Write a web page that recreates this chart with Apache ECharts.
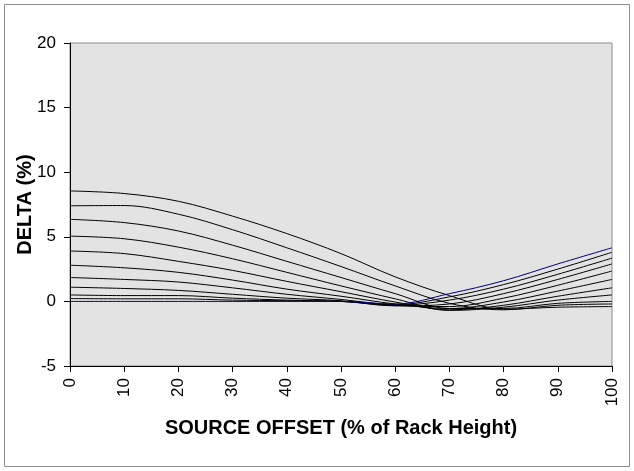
<!DOCTYPE html>
<html>
<head>
<meta charset="utf-8">
<script src="https://cdn.jsdelivr.net/npm/echarts@6/dist/echarts.min.js"></script>
<style>
  html, body { margin: 0; padding: 0; background: #fff; }
  #chart { width: 634px; height: 471px; }
</style>
</head>
<body>
<div id="chart"></div>
<script>
// source offset (% of rack height)
const offsets = [0, 10, 20, 30, 40, 50, 60, 70, 80, 90, 100];

// delta (%) curves
const delta0 = [0, 0, 0, 0, 0, 0, -0.2, 0.6, 1.6, 2.9, 4.15];
const delta1 = [0.22, 0.2, 0.2, 0.1, 0.05, 0, -0.25, 0.35, 1.3, 2.5, 3.8];
const delta2 = [0.5, 0.45, 0.45, 0.25, 0.1, 0, -0.3, 0.1, 0.95, 2.1, 3.35];
const delta3 = [1.1, 1.0, 0.85, 0.55, 0.25, 0.05, -0.35, -0.2, 0.6, 1.7, 2.9];
const delta4 = [1.85, 1.7, 1.5, 1.05, 0.55, 0.15, -0.3, -0.4, 0.25, 1.25, 2.35];
const delta5 = [2.8, 2.6, 2.25, 1.65, 0.95, 0.4, -0.2, -0.55, -0.05, 0.8, 1.7];
const delta6 = [3.9, 3.7, 3.1, 2.4, 1.55, 0.75, -0.05, -0.65, -0.3, 0.4, 1.05];
const delta7 = [5.05, 4.85, 4.2, 3.3, 2.25, 1.2, 0.2, -0.7, -0.45, 0.1, 0.5];
const delta8 = [6.35, 6.1, 5.45, 4.35, 3.1, 1.85, 0.6, -0.55, -0.55, -0.15, 0];
const delta9 = [7.4, 7.42, 6.75, 5.55, 4.15, 2.7, 1.2, -0.15, -0.65, -0.3, -0.2];
const delta10 = [8.55, 8.35, 7.75, 6.6, 5.25, 3.7, 1.9, 0.45, -0.6, -0.45, -0.4];

const blackCurves = [delta10, delta9, delta8, delta7, delta6, delta5, delta4, delta3, delta2, delta1];

const font = "'Liberation Sans', Arial, sans-serif";

const toPoints = (vals) => offsets.map((x, i) => [x, vals[i]]);

const lineSeries = (vals, color) => ({
  type: "line",
  data: toPoints(vals),
  smooth: 0.35,
  showSymbol: false,
  silent: true,
  lineStyle: { color: color, width: 1 },
  itemStyle: { color: color }
});

const chart = echarts.init(document.getElementById("chart"));

chart.setOption({
  animation: false,
  backgroundColor: "#ffffff",
  graphic: [
    {
      type: "rect",
      shape: { x: 4.5, y: 4.5, width: 625, height: 462 },
      style: { fill: "none", stroke: "#8c8c8c", lineWidth: 1 },
      silent: true
    }
  ],
  grid: {
    left: 70,
    right: 22,
    top: 43,
    bottom: 105,
    containLabel: false,
    outerBoundsMode: "none",
    show: true,
    backgroundColor: "#e3e3e3",
    borderColor: "#8c8c8c",
    borderWidth: 1
  },
  xAxis: {
    type: "value",
    min: 0,
    max: 100,
    interval: 10,
    name: "SOURCE OFFSET (% of Rack Height)",
    nameLocation: "middle",
    nameGap: 52,
    nameMoveOverlap: false,
    nameTextStyle: { fontFamily: font, fontSize: 20, fontWeight: "bold", color: "#000" },
    axisLine: { onZero: false, lineStyle: { color: "#000", width: 1 } },
    axisTick: { show: true, length: 6, lineStyle: { color: "#000" } },
    axisLabel: { rotate: 90, margin: 12, fontFamily: font, fontSize: 17, color: "#000" },
    splitLine: { show: false }
  },
  yAxis: {
    type: "value",
    min: -5,
    max: 20,
    interval: 5,
    name: "DELTA (%)",
    nameLocation: "middle",
    nameGap: 35,
    nameMoveOverlap: false,
    nameTextStyle: { fontFamily: font, fontSize: 20, fontWeight: "bold", color: "#000" },
    axisLine: { show: true, lineStyle: { color: "#000", width: 1 } },
    axisTick: { show: true, length: 6, lineStyle: { color: "#000" } },
    axisLabel: { margin: 14, fontFamily: font, fontSize: 17, color: "#000" },
    splitLine: { show: false }
  },
  series: [
    ...blackCurves.map((vals) => lineSeries(vals, "#000000")),
    lineSeries(delta0, "#000080")
  ]
});
</script>
</body>
</html>
